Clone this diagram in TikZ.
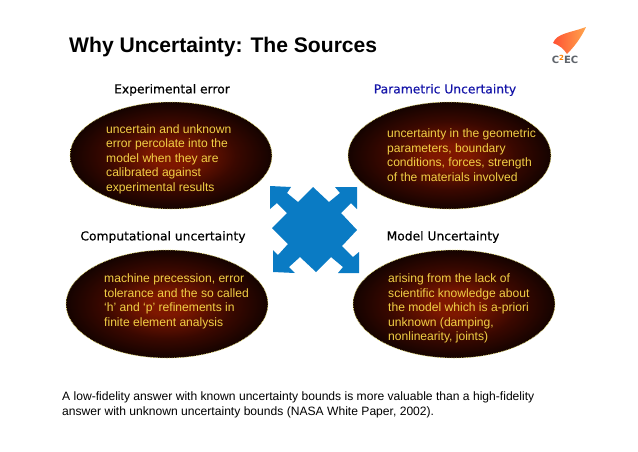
\documentclass[tikz,border=0pt]{standalone}
\usepackage{fontspec}
\setmainfont{Liberation Sans}
\newfontfamily\headfont[FakeBold=0.3]{DejaVu Sans}
\newfontfamily\logofont{DejaVu Sans}
\usetikzlibrary{positioning,shapes.geometric,calc,shadings}
\definecolor{cBlue}{HTML}{0A7BC4}
\definecolor{cHead}{HTML}{1414A8}
\definecolor{cText}{HTML}{F2CF45}
\definecolor{cRim}{HTML}{E8E070}
\definecolor{cGrey}{HTML}{5F646B}
\definecolor{cGlow}{HTML}{7E1700}
\definecolor{cMid}{HTML}{3A0800}
\pgfdeclareradialshading{glow}{\pgfpointorigin}{color(0bp)=(cGlow); color(5bp)=(cGlow); color(16bp)=(cMid); color(30bp)=(black); color(50bp)=(black)}
\begin{document}
\begin{tikzpicture}[
    x=1pt, y=-1pt,
    blob/.style={ellipse, draw=cRim, densely dotted, line width=0.7pt, shading=glow, inner sep=0pt},
    body/.style={anchor=north west, align=left, inner sep=0pt, text=cText, font=\fontsize{12.1}{14.4}\selectfont},
    head/.style={inner sep=0pt, font=\headfont\fontsize{12.3}{14}\selectfont},
    note/.style={anchor=north west, align=left, inner sep=0pt, font=\fontsize{12.1}{15}\selectfont}
]
\useasboundingbox (0,0) rectangle (638,451);
\node[anchor=west, inner sep=0pt, font=\bfseries\fontsize{21.1}{24}\selectfont] (title) at (69,47) {Why Uncertainty: The Sources};

% logo
\shade[left color=red!70!orange!80, right color=orange!70] (553,43) .. controls (557,33) and (570,33) .. (586,27) .. controls (581,38) and (574,47) .. (567,54) .. controls (564,49) and (559,45) .. (553,43) -- cycle;
\node[inner sep=0pt, text=cGrey, font=\logofont\bfseries\fontsize{10}{11}\selectfont] (logo) at (565,59) {C\raisebox{3pt}{\textcolor{orange}{\fontsize{7}{8}\selectfont 2}}EC};

% sources
\node[head] (exphead) at (172,90) {Experimental error};
\node[head, text=cHead] (parhead) at (445,90) {Parametric Uncertainty};
\node[head] (comphead) at (163,237) {Computational uncertainty};
\node[head] (modhead) at (443,237) {Model Uncertainty};

\node[blob, minimum width=202pt, minimum height=107pt] (exp) at (171,155.5) {};
\node[blob, minimum width=203pt, minimum height=107pt] (par) at (449.5,155.5) {};
\node[blob, minimum width=202pt, minimum height=108pt] (comp) at (167,304) {};
\node[blob, minimum width=202pt, minimum height=108pt] (mod) at (454,304) {};

\node[body] (exptext) at (106,124.5) {uncertain and unknown\\error percolate into the\\model when they are\\calibrated against\\experimental results};
\node[body] (partext) at (387,129) {uncertainty in the geometric\\parameters, boundary\\conditions, forces, strength\\of the materials involved};
\node[body] (comptext) at (104,274) {machine precession, error\\tolerance and the so called\\‘h’ and ‘p’ refinements in\\finite element analysis};
\node[body] (modtext) at (388,274) {arising from the lack of\\scientific knowledge about\\the model which is a-priori\\unknown (damping,\\nonlinearity, joints)};

% centre arrows
\fill[cBlue] (270,186) -- (291,187) -- (287,193) -- (298,202) -- (313,187) -- (329,202) -- (340,193) -- (335,187) -- (357,187) -- (357,209) -- (351,203) -- (341,213) -- (357,230) -- (342,246) -- (353,257) -- (359,252) -- (359,273) -- (338,273) -- (343,267) -- (331,257) -- (316,272) -- (300,257) -- (289,267) -- (295,273) -- (273,272) -- (273,250) -- (278,255) -- (288,244) -- (272,228) -- (287,213) -- (277,203) -- (270,209) -- cycle;

\node[note] (footer) at (62,392) {A low-fidelity answer with known uncertainty bounds is more valuable than a high-fidelity\\answer with unknown uncertainty bounds (NASA White Paper, 2002).};
\end{tikzpicture}
\end{document}
